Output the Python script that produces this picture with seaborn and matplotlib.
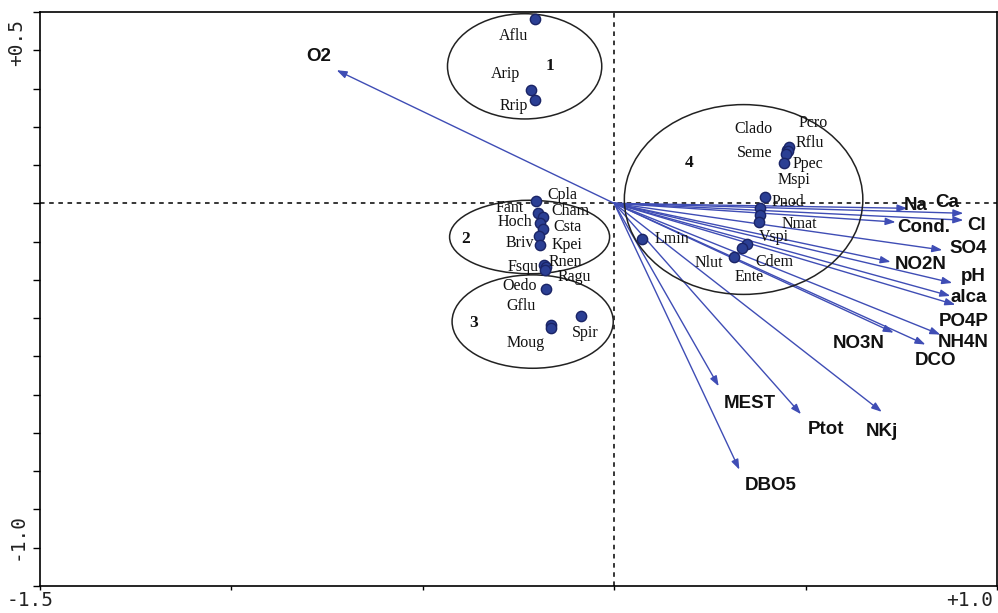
import matplotlib
matplotlib.use("Agg")
import matplotlib.pyplot as plt
from matplotlib.patches import Ellipse
import numpy as np
import pandas as pd
import seaborn as sns

sns.set_theme(style="ticks")

# species scores (axis 1, axis 2)
species = ["Aflu", "Arip", "Rrip",
           "Cpla", "Fant", "Cham", "Hoch", "Csta", "Kpei", "Briv", "Fsqu", "Rnen", "Ragu",
           "Oedo", "Gflu", "Moug", "Spir",
           "Clado", "Pcro", "Rflu", "Seme", "Ppec", "Mspi", "Pnod", "Nmat", "Vspi",
           "Lmin", "Cdem", "Ente", "Nlut"]
sp_x = [-0.208, -0.218, -0.208,
        -0.205, -0.200, -0.187, -0.195, -0.187, -0.197, -0.195, -0.184, -0.179, -0.182,
        -0.179, -0.166, -0.166, -0.088,
        0.452, 0.457, 0.455, 0.449, 0.444, 0.395, 0.382, 0.382, 0.379,
        0.073, 0.348, 0.335, 0.312]
sp_y = [0.483, 0.296, 0.270,
        0.005, -0.026, -0.036, -0.052, -0.068, -0.086, -0.109, -0.161, -0.166, -0.174,
        -0.223, -0.319, -0.325, -0.294,
        0.140, 0.148, 0.138, 0.130, 0.106, 0.016, -0.013, -0.031, -0.049,
        -0.094, -0.106, -0.117, -0.140]

# environmental variable arrows (tips)
env = ["O2", "Ca", "Na", "Cl", "Cond.", "SO4", "NO2N", "pH", "alca", "PO4P",
       "NH4N", "DCO", "NO3N", "NKj", "Ptot", "MEST", "DBO5"]
env_x = [-0.725, 0.912, 0.766, 0.912, 0.735, 0.857, 0.722, 0.883, 0.878, 0.891,
         0.852, 0.813, 0.730, 0.699, 0.488, 0.273, 0.327]
env_y = [0.348, -0.026, -0.013, -0.044, -0.049, -0.122, -0.153, -0.208, -0.242, -0.265,
         -0.343, -0.369, -0.338, -0.545, -0.551, -0.478, -0.696]

# label placement (layout only)
sp_lab = {"Aflu": (-0.262, 0.436), "Arip": (-0.283, 0.338), "Rrip": (-0.262, 0.255),
          "Cpla": (-0.135, 0.023), "Fant": (-0.273, -0.013), "Cham": (-0.114, -0.021),
          "Hoch": (-0.260, -0.050), "Csta": (-0.122, -0.062), "Briv": (-0.247, -0.104),
          "Kpei": (-0.122, -0.108), "Fsqu": (-0.239, -0.166), "Rnen": (-0.127, -0.153),
          "Ragu": (-0.104, -0.192), "Oedo": (-0.247, -0.216), "Gflu": (-0.244, -0.268),
          "Spir": (-0.075, -0.338), "Moug": (-0.231, -0.366),
          "Clado": (0.364, 0.195), "Pcro": (0.519, 0.210), "Rflu": (0.512, 0.158),
          "Seme": (0.366, 0.132), "Ppec": (0.506, 0.104), "Mspi": (0.470, 0.060),
          "Pnod": (0.455, 0.003), "Nmat": (0.483, -0.055), "Lmin": (0.151, -0.094),
          "Vspi": (0.416, -0.088), "Cdem": (0.418, -0.153), "Nlut": (0.247, -0.156),
          "Ente": (0.353, -0.192)}
env_lab = {"O2": (-0.771, 0.384), "Ca": (0.870, 0.003), "Na": (0.787, -0.005),
           "Cl": (0.948, -0.057), "Cond.": (0.808, -0.062), "SO4": (0.925, -0.117),
           "NO2N": (0.800, -0.161), "pH": (0.938, -0.190), "alca": (0.925, -0.247),
           "PO4P": (0.912, -0.309), "NH4N": (0.912, -0.364), "DCO": (0.839, -0.410),
           "NO3N": (0.639, -0.366), "NKj": (0.699, -0.597), "Ptot": (0.553, -0.592),
           "MEST": (0.353, -0.522), "DBO5": (0.410, -0.738)}

# groups: label, centre, width, height, number position
groups = [("1", (-0.234, 0.358), 0.403, 0.275, (-0.169, 0.358)),
          ("2", (-0.221, -0.088), 0.418, 0.192, (-0.387, -0.094)),
          ("3", (-0.213, -0.309), 0.421, 0.244, (-0.366, -0.312)),
          ("4", (0.338, 0.010), 0.623, 0.496, (0.195, 0.106))]

arrow_col = "#3f4db5"
dot_col = "#2b3f94"

fig = plt.figure(figsize=(9.98, 6.13), dpi=100)
ax = fig.add_axes([40 / 998, 1 - 586 / 613, 957 / 998, 574 / 613])
ax.set_xlim(-1.5, 1.0)
ax.set_ylim(-1.0, 0.5)

ax.axhline(0, color="black", ls=(0, (3, 3)), lw=1.1, zorder=1)
ax.axvline(0, color="black", ls=(0, (3, 3)), lw=1.1, zorder=1)

for name, x, y in zip(env, env_x, env_y):
    ax.annotate("", xy=(x, y), xytext=(0, 0),
                arrowprops=dict(arrowstyle="-|>,head_length=0.5,head_width=0.18",
                                color=arrow_col, lw=1.0, shrinkA=0, shrinkB=0),
                zorder=2)
    lx, ly = env_lab[name]
    ax.text(lx, ly, name, fontsize=13.5, fontweight="bold", family="Liberation Sans",
            ha="center", va="center", color="#111111", zorder=4)

df = pd.DataFrame({"species": species, "ax1": sp_x, "ax2": sp_y})
sns.scatterplot(data=df, x="ax1", y="ax2", ax=ax, s=55, color=dot_col,
                edgecolor="#1a2466", linewidth=1.0, zorder=3, clip_on=False)
for name, x, y in zip(species, sp_x, sp_y):
    lx, ly = sp_lab[name]
    ax.text(lx, ly, name, fontsize=11.5, family="Liberation Serif",
            ha="center", va="center", color="#111111", zorder=4)

for num, c, w, h, npos in groups:
    ax.add_patch(Ellipse(c, w, h, fill=False, ec="#222222", lw=1.1, zorder=2))
    ax.text(npos[0], npos[1], num, fontsize=12.5, fontweight="bold",
            family="Liberation Serif", ha="center", va="center", color="#111111")

for s in ax.spines.values():
    s.set_color("black")
    s.set_linewidth(1.2)
ax.set_xticks(np.arange(-1.5, 1.01, 0.5))
ax.set_yticks(np.arange(-1.0, 0.51, 0.1))
ax.tick_params(axis="x", length=3, width=1, color="black", labelbottom=False)
ax.tick_params(axis="y", length=5, width=1, color="black", labelleft=False)
ax.set_xlabel("")
ax.set_ylabel("")

mono = dict(family="DejaVu Sans Mono", fontsize=14, color="#222222")
fig.text(30 / 998, 1 - 600 / 613, "-1.5", ha="center", va="center", **mono)
fig.text(970 / 998, 1 - 600 / 613, "+1.0", ha="center", va="center", **mono)
fig.text(17 / 998, 1 - 42 / 613, "+0.5", ha="center", va="center", rotation=90, **mono)
fig.text(17 / 998, 1 - 537 / 613, "-1.0", ha="center", va="center", rotation=90, **mono)

fig.savefig("out.png", dpi=100)
